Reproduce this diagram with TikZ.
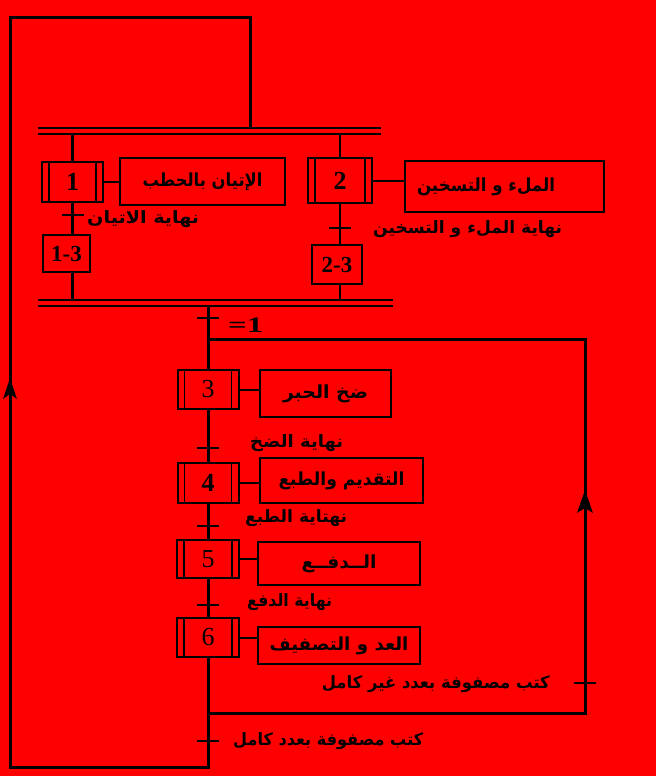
\documentclass[tikz,border=0pt]{standalone}
\usepackage{fontspec}
\usepackage{graphicx}
\setmainfont{Liberation Serif}
\newfontfamily\arabicfont[Script=Arabic]{DejaVu Sans}
\TeXXeTstate=1
\usetikzlibrary{arrows.meta}
\definecolor{bgred}{RGB}{255,0,0}
\newcommand{\fitw}[2]{\resizebox{#1}{\height}{#2}}
\tikzset{
  stepbox/.style={draw, line width=2pt, inner sep=0pt, font=\fontsize{26}{26}\selectfont,
    path picture={\draw[line width=1.6pt]
      ([xshift=7pt]path picture bounding box.north west) -- ([xshift=7pt]path picture bounding box.south west)
      ([xshift=-7pt]path picture bounding box.north east) -- ([xshift=-7pt]path picture bounding box.south east);}},
  boldnum/.style={font=\bfseries\fontsize{26}{26}\selectfont},
  macrobox/.style={draw, line width=2.2pt, inner sep=0pt, font=\bfseries\fontsize{23}{23}\selectfont},
  actbox/.style={draw, line width=2pt, inner sep=0pt, font=\arabicfont\bfseries\fontsize{18}{18}\selectfont},
  tlabel/.style={inner sep=0pt, font=\arabicfont\bfseries\fontsize{17}{17}\selectfont},
  tick/.style={line width=2pt},
  link/.style={line width=2.2pt},
  bigloop/.style={line width=3pt},
  bar/.style={line width=2pt},
  arrowhead/.style={fill=black, draw=none},
}
\begin{document}
\begin{tikzpicture}[x=1pt,y=-1pt]
\fill[bgred] (0,0) rectangle (656,776);
\useasboundingbox (0,0) rectangle (656,776);

% bars
\coordinate (TBa) at (38,128); \coordinate (TBb) at (381,128);
\coordinate (TBc) at (38,134); \coordinate (TBd) at (381,134);
\coordinate (BBa) at (38,300); \coordinate (BBb) at (393,300);
\coordinate (BBc) at (38,306); \coordinate (BBd) at (393,306);
\draw[bar] (TBa) -- (TBb);
\draw[bar] (TBc) -- (TBd);
\draw[bar] (BBa) -- (BBb);
\draw[bar] (BBc) -- (BBd);

% steps
\node[stepbox, boldnum, minimum width=61pt, minimum height=40pt] (s1) at (72.5,182) {1};
\node[stepbox, boldnum, minimum width=64pt, minimum height=45pt] (s2) at (340,180.5) {2};
\node[macrobox, minimum width=47pt, minimum height=37pt] (s13) at (66.5,253.5) {1-3};
\node[macrobox, minimum width=50pt, minimum height=39pt] (s23) at (337,264.5) {2-3};
\node[stepbox, minimum width=61pt, minimum height=39pt] (s3) at (208,389.5) {3};
\node[stepbox, boldnum, minimum width=61pt, minimum height=40pt] (s4) at (208,483) {4};
\node[stepbox, minimum width=62pt, minimum height=38pt] (s5) at (208,559) {5};
\node[stepbox, minimum width=62pt, minimum height=39pt] (s6) at (208,637.5) {6};

% actions
\node[actbox, minimum width=165pt, minimum height=47pt] (a1) at (202.5,181.5) {\fitw{120pt}{\beginR الإتيان بالحطب\endR}};
\node[actbox, minimum width=199pt, minimum height=51pt] (a2) at (504.5,186.5) {\fitw{138pt}{\beginR الملء و التسخين\endR}\hspace*{37pt}};
\node[actbox, minimum width=131pt, minimum height=47pt] (a3) at (325.5,393.5) {\fitw{85pt}{\beginR ضخ الحبر\endR}};
\node[actbox, minimum width=163pt, minimum height=45pt] (a4) at (341.5,480.5) {\fitw{126pt}{\beginR التقديم والطبع\endR}};
\node[actbox, minimum width=162pt, minimum height=43pt] (a5) at (339,563.5) {\fitw{75pt}{\beginR الــدفــع\endR}};
\node[actbox, minimum width=162pt, minimum height=37pt] (a6) at (339,645.5) {\fitw{139pt}{\beginR العد و التصفيف\endR}};

\draw[tick] (s1.east) -- (s1.east -| a1.west);
\draw[tick] (s2.east) -- (s2.east -| a2.west);
\draw[tick] (s3.east) -- (s3.east -| a3.west);
\draw[tick] (s4.east) -- (s4.east -| a4.west);
\draw[tick] (s5.east) -- (s5.east -| a5.west);
\draw[tick] (s6.east) -- (s6.east -| a6.west);

% top branches
\draw[link] (s1.north) -- (s1.north |- TBc);
\draw[link] (s2.north) -- (s2.north |- TBc);
\draw[link] (s1.south) -- (s1.south |- s13.north);
\draw[link] (s2.south) -- (s2.south |- s23.north);
\draw[link] (s13.south -| s1.south) -- (s1.south |- BBa);
\draw[link] (s23.south -| s2.south) -- (s2.south |- BBa);

% spine
\draw[bigloop] (s3.north |- BBc) -- (s3.north);
\draw[bigloop] (s3.south) -- (s4.north);
\draw[bigloop] (s4.south) -- (s5.north);
\draw[bigloop] (s5.south) -- (s6.north);

% transitions
\coordinate (t1) at (72.5,215);
\coordinate (t2) at (340,228);
\coordinate (t0) at (208,318);
\coordinate (t3) at (208,448);
\coordinate (t4) at (208,526);
\coordinate (t5) at (208,605);
\coordinate (t6) at (585,683);
\coordinate (t7) at (208,741);
\foreach \t in {t1,t2,t0,t3,t4,t5,t6,t7}
  \draw[tick] ([xshift=-11pt]\t) -- ([xshift=11pt]\t);

\node[tlabel, anchor=west] (l1) at (87,219) {\fitw{112pt}{\beginR نهاية الاتيان\endR}};
\node[tlabel, anchor=west] (l2) at (373,229) {\fitw{189pt}{\beginR نهاية الملء و التسخين\endR}};
\node[inner sep=0pt, anchor=west, font=\bfseries\fontsize{22}{22}\selectfont] (l0) at (228,325) {\fitw{35pt}{=1}};
\node[tlabel, anchor=west] (l3) at (250,443) {\fitw{93pt}{\beginR نهاية الضخ\endR}};
\node[tlabel, anchor=west] (l4) at (245,518) {\fitw{102pt}{\beginR نهتاية الطبع\endR}};
\node[tlabel, anchor=west] (l5) at (247,602) {\fitw{85pt}{\beginR نهاية الدفع\endR}};
\node[tlabel, anchor=east] (l6) at (550,684) {\fitw{228pt}{\beginR كتب مصفوفة بعدد غير كامل\endR}};
\node[tlabel, anchor=west] (l7) at (233,741) {\fitw{190pt}{\beginR كتب مصفوفة بعدد كامل\endR}};

% loops
\coordinate (j1) at (208,713);
\coordinate (j2) at (208,339);
\coordinate (r1) at (585,713);
\coordinate (r2) at (585,339);
\coordinate (c1) at (208,767);
\coordinate (c2) at (10,767);
\coordinate (c3) at (10,18);
\coordinate (c4) at (250,18);
\coordinate (c5) at (250,128);
\draw[bigloop] (j1) -- (r1) -- (r2) -- (j2);
\draw[bigloop] (s6.south) -- (c1) -- (c2) -- (c3) -- (c4) -- (c5);
% arrowheads
\fill[arrowhead] (10,378) -- (17,399) -- (10,394) -- (3,399) -- cycle;
\fill[arrowhead] (585,490) -- (593,513) -- (585,508) -- (577,513) -- cycle;
\end{tikzpicture}
\end{document}
